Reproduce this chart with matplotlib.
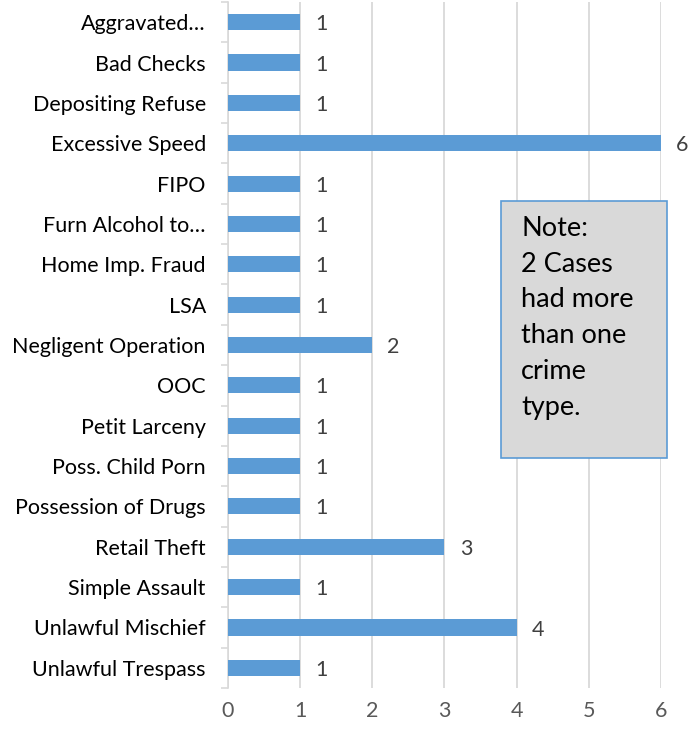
import matplotlib.pyplot as plt
from matplotlib.patches import Rectangle

plt.rcParams['font.family'] = ['Lato', 'DejaVu Sans']

crimes = ["Aggravated…", "Bad Checks", "Depositing Refuse", "Excessive Speed", "FIPO",
          "Furn Alcohol to…", "Home Imp. Fraud", "LSA", "Negligent Operation", "OOC",
          "Petit Larceny", "Poss. Child Porn", "Possession of Drugs", "Retail Theft",
          "Simple Assault", "Unlawful Mischief", "Unlawful Trespass"]
counts = [1, 1, 1, 6, 1, 1, 1, 1, 2, 1, 1, 1, 1, 3, 1, 4, 1]
xticks = [0, 1, 2, 3, 4, 5, 6]
note = "Note:\n2 Cases\nhad more\nthan one\ncrime\ntype."

fig = plt.figure(figsize=(6.9, 7.31), dpi=100)
ax = fig.add_axes([0.3304, 0.0588, 0.6276, 0.9385])

pos = list(range(len(crimes)))
ax.barh(pos, counts, height=0.4, color="#5b9bd5", zorder=3)
for p, c in zip(pos, counts):
    ax.text(c + 0.21, p + 0.05, str(c), va="center", ha="left", fontsize=15.5, color="#404040")

ax.set_ylim(len(crimes) - 0.5, -0.5)
ax.set_xlim(0, 6)
ax.set_xticks(xticks)
ax.tick_params(axis="x", length=0, labelsize=15.5, labelcolor="#595959", pad=9)
ax.set_yticks(pos)
ax.set_yticklabels(crimes, fontsize=15.5, color="#000000")
ax.tick_params(axis="y", length=0, pad=16)
ax.set_yticks([p + 0.5 for p in [-1] + pos], minor=True)
ax.tick_params(axis="y", which="minor", length=5, color="#d9d9d9", width=1.2)
ax.grid(axis="x", color="#d9d9d9", linewidth=1.3, zorder=0)
for s in ["top", "right", "bottom"]:
    ax.spines[s].set_visible(False)
ax.spines["left"].set_color("#d9d9d9")
ax.spines["left"].set_linewidth(1.2)

# note box
ax.add_patch(Rectangle((3.78, 4.44), 2.3, 6.36, facecolor="#d9d9d9",
                       edgecolor="#5b9bd5", linewidth=1.2, zorder=4, clip_on=False))
ax.text(4.06, 4.8, note, va="top", ha="left", fontsize=19.5, color="#000000",
        linespacing=1.54, zorder=5)

fig.savefig("out.png", dpi=100)
